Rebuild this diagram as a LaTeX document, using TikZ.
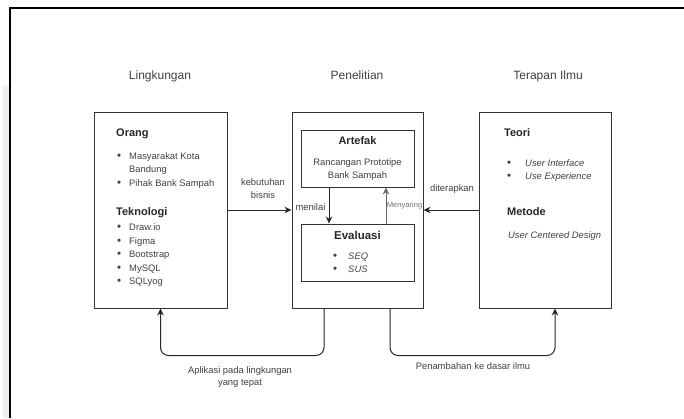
\documentclass[tikz,border=0pt]{standalone}
\usepackage{fontspec}
\setmainfont{Liberation Sans}
\usepackage{tikz}
\usetikzlibrary{arrows.meta}
\newcommand{\bul}{{\fontsize{11.5}{11.5}\selectfont\textbullet}}

\begin{document}
\begin{tikzpicture}[x=1pt,y=-1pt,
    box/.style={draw=black!80, line width=1pt, inner sep=0pt},
    txt/.style={font=\fontsize{9.4}{13.5}\selectfont, text=black!75, inner sep=0pt},
    head/.style={font=\fontsize{11}{13}\selectfont\bfseries, text=black!85, inner sep=0pt, anchor=base west},
    title/.style={font=\fontsize{12}{14}\selectfont, text=black!75, inner sep=0pt, anchor=base},
    arr/.style={-{Stealth[length=7pt,width=6.5pt]}, line width=1pt, draw=black!85}]
  \useasboundingbox (0,0) rectangle (684,418);
  \fill[black!6] (3,85) rectangle (9,418);
  \draw[line width=1.6pt] (684,8) -- (10,8) -- (10,418);

  \node[title] (tling) at (160,79.5) {Lingkungan};
  \node[title] (tpen) at (357,79.5) {Penelitian};
  \node[title] (tilmu) at (548,79.5) {Terapan Ilmu};

  \node[box, minimum width=133, minimum height=196] (ling) at (160.5,210) {};
  \node[box, minimum width=131, minimum height=196] (pen) at (357.5,210) {};
  \node[box, minimum width=132, minimum height=196] (ilmu) at (545,210) {};
  \node[box, minimum width=113, minimum height=57] (art) at (357.5,158.5) {};
  \node[box, minimum width=113, minimum height=57] (eval) at (357.5,252.5) {};

  \node[head] (orang) at (116,136) {Orang};
  \node[txt, anchor=base west] (lorang) at (117,159) {\begin{tabular}[t]{@{}l@{\hspace{8pt}}l@{}}
      \bul & Masyarakat Kota\\
           & Bandung\\
      \bul & Pihak Bank Sampah
    \end{tabular}};
  \node[head] (tekno) at (116,215) {Teknologi};
  \node[txt, anchor=base west] (ltekno) at (117,230.5) {\begin{tabular}[t]{@{}l@{\hspace{8pt}}l@{}}
      \bul & Draw.io\\
      \bul & Figma\\
      \bul & Bootstrap\\
      \bul & MySQL\\
      \bul & SQLyog
    \end{tabular}};

  \node[head, anchor=base] (artj) at (357.5,144) {Artefak};
  \node[txt, align=center, font=\fontsize{9.4}{13}\selectfont] (artx) at (357.5,170) {Rancangan Prototipe\\Bank Sampah};
  \node[head, anchor=base, font=\fontsize{11.5}{13}\selectfont\bfseries] (evalj) at (357.5,239.5) {Evaluasi};
  \node[txt, anchor=base west, font=\fontsize{9.4}{13}\selectfont] (evalx) at (333,259.5) {\begin{tabular}[t]{@{}l@{\hspace{11pt}}l@{}}
      \bul & \itshape SEQ\\
      \bul & \itshape SUS
    \end{tabular}};

  \node[head] (teori) at (504,136) {Teori};
  \node[txt, anchor=base west, font=\fontsize{9.4}{13}\selectfont] (lteori) at (507,166) {\begin{tabular}[t]{@{}l@{\hspace{14pt}}l@{}}
      \bul & \itshape User Interface\\
      \bul & \itshape Use Experience
    \end{tabular}};
  \node[head] (metode) at (507,215) {Metode};
  \node[txt, anchor=base west] (ucd) at (508,238.5) {\itshape User Centered Design};

  \draw[arr] (ling.east) -- (pen.west);
  \node[txt, align=center, font=\fontsize{9.4}{13}\selectfont] (kebut) at (263,189) {kebutuhan\\bisnis};
  \draw[arr] (ilmu.west) -- (pen.east);
  \node[txt, anchor=base] (diterap) at (452,191.5) {diterapkan};

  \draw[arr] ([xshift=-28.5pt]art.south) -- ([xshift=-28.5pt]eval.north);
  \node[txt, anchor=base] (menilai) at (310.5,210) {menilai};
  \draw[arr, draw=black!60] ([xshift=28.5pt]eval.north) -- ([xshift=28.5pt]art.south);
  \node[txt, anchor=base, font=\fontsize{7.6}{9}\selectfont, text=black!55] (saring) at (404.5,207.5) {Menyaring};

  \draw[arr, rounded corners=8pt] ([xshift=-33.5pt]pen.south) -- ++(0,47) -| (ling.south);
  \node[txt, align=center, font=\fontsize{9.4}{12}\selectfont] (aplik) at (240,377) {Aplikasi pada lingkungan\\yang tepat};
  \draw[arr, rounded corners=8pt] ([xshift=32.5pt]pen.south) -- ++(0,47) -| ([xshift=10pt]ilmu.south);
  \node[txt, anchor=base] (tambah) at (473,369) {Penambahan ke dasar ilmu};
\end{tikzpicture}
\end{document}
